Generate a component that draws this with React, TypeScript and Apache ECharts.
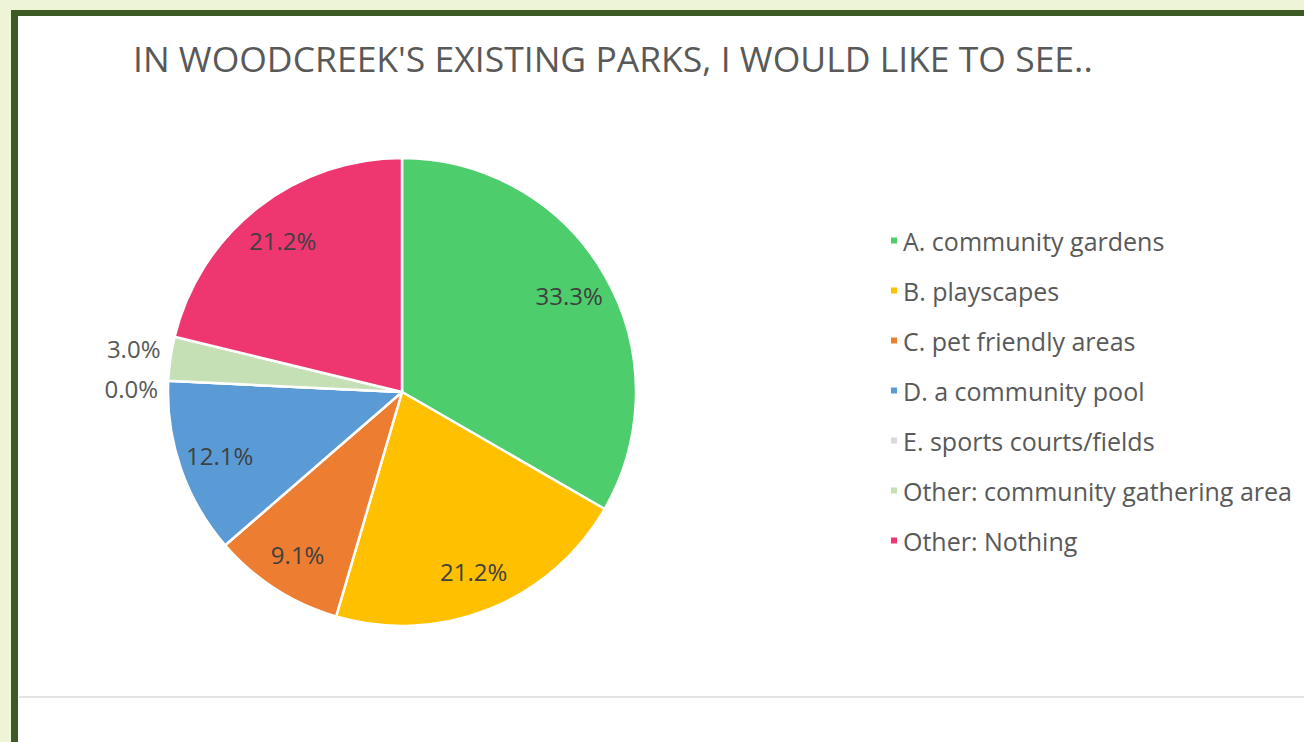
import React, { useEffect, useRef } from "react";
import * as echarts from "echarts";

const titleText = "IN WOODCREEK'S EXISTING PARKS, I WOULD LIKE TO SEE..";
const categories = [
  "A. community gardens",
  "B. playscapes",
  "C. pet friendly areas",
  "D. a community pool",
  "E. sports courts/fields",
  "Other: community gathering area",
  "Other: Nothing",
];
const values = [11, 7, 3, 4, 0, 1, 7];
const colors = ["#4ECD6C", "#FFC000", "#ED7D31", "#5B9BD5", "#D9D9D9", "#C5E0B4", "#EE3670"];
const outsideLabel = [false, false, false, false, true, true, false];

const FONT = "'Open Sans', Lato, sans-serif";

export default function App() {
  const ref = useRef<HTMLDivElement>(null);
  useEffect(() => {
    if (!ref.current) return;
    const chart = echarts.init(ref.current, null, { renderer: "svg" });
    const total = values.reduce((a, b) => a + b, 0);
    const pct = (v: number) => ((v / total) * 100).toFixed(1) + "%";

    const mainData = categories.map((name, i) => ({
      name,
      value: values[i],
      itemStyle: { color: colors[i] },
      label: { show: outsideLabel[i] },
    }));
    const overlayData = categories.map((name, i) => ({
      name,
      value: values[i],
      label: { show: !outsideLabel[i] },
    }));

    chart.setOption({
      animation: false,
      backgroundColor: "#ffffff",
      graphic: [
        { type: "rect", shape: { x: 0, y: 0, width: 1304, height: 742 }, style: { fill: "#EEF5D6" }, z: -10 },
        { type: "rect", shape: { x: 11, y: 10, width: 1300, height: 740 }, style: { fill: "#3D5A24" }, z: -9 },
        { type: "rect", shape: { x: 18, y: 16, width: 1300, height: 740 }, style: { fill: "#ffffff" }, z: -8 },
        { type: "line", shape: { x1: 19, y1: 697, x2: 1304, y2: 697 }, style: { stroke: "#E3E3E3", lineWidth: 2 }, z: -7 },
      ],
      title: {
        text: titleText,
        left: 128,
        top: 35,
        textStyle: { fontFamily: FONT, fontSize: 35.5, fontWeight: "normal", color: "#595959" },
      },
      legend: {
        orient: "vertical",
        left: 884,
        top: 223,
        itemGap: 25,
        itemWidth: 8,
        itemHeight: 8,
        icon: "rect",
        data: categories,
        textStyle: { fontFamily: FONT, fontSize: 25, color: "#595959" },
      },
      series: [
        {
          type: "pie",
          center: [402, 392],
          radius: 234,
          startAngle: 90,
          clockwise: true,
          data: mainData,
          itemStyle: { borderColor: "#ffffff", borderWidth: 2.5 },
          label: {
            position: "outside",
            formatter: (p: any) => pct(p.value),
            fontFamily: FONT,
            fontSize: 24,
            color: "#595959",
          },
          labelLine: { show: false, length: 10, length2: 0 },
          labelLayout: (p: any) => ({ dy: p.dataIndex === 4 ? 5 : -9 }),
          emphasis: { disabled: true },
        },
        {
          type: "pie",
          center: [402, 392],
          radius: [146, 234],
          startAngle: 90,
          clockwise: true,
          silent: true,
          data: overlayData,
          itemStyle: { color: "rgba(0,0,0,0)" },
          label: {
            position: "inside",
            formatter: (p: any) => pct(p.value),
            fontFamily: FONT,
            fontSize: 24,
            color: "#404040",
          },
          labelLine: { show: false },
          emphasis: { disabled: true },
        },
      ],
    });
    return () => chart.dispose();
  }, []);
  return (
    <div
      ref={ref}
      style={{ position: "fixed", left: 0, top: 0, width: 1304, height: 742 }}
    />
  );
}
